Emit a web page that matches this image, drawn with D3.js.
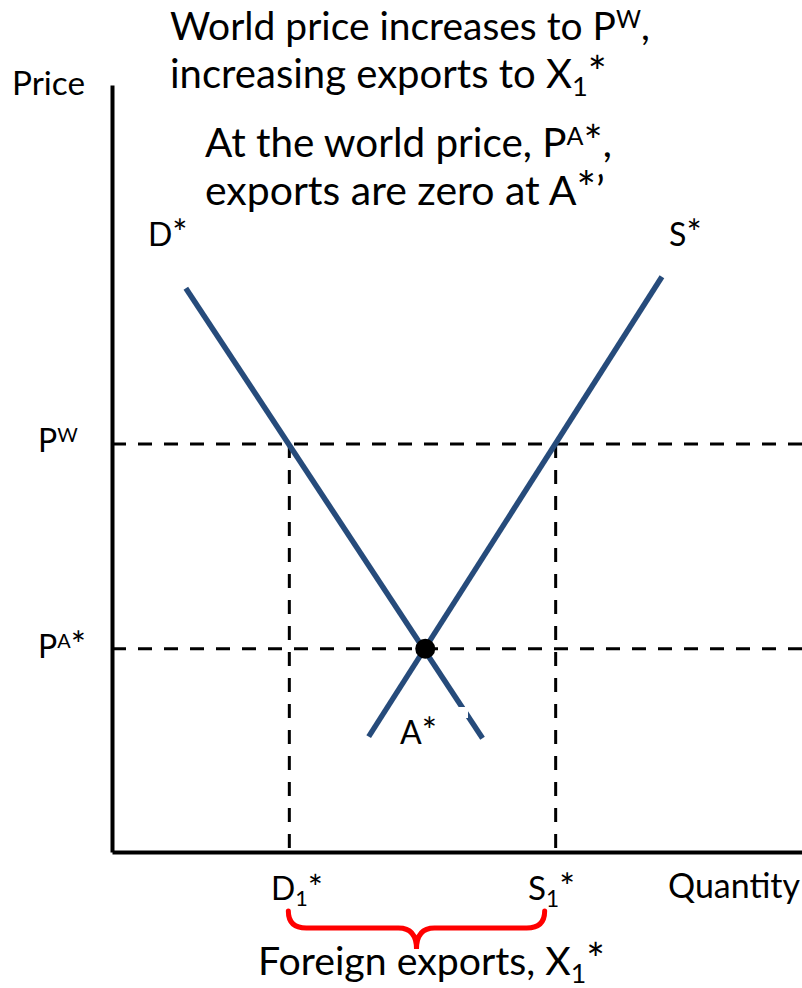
<!DOCTYPE html>
<html>
<head>
<meta charset="utf-8">
<script src="https://cdn.jsdelivr.net/npm/d3@7/dist/d3.min.js"></script>
<style>
  html, body { margin: 0; padding: 0; background: #fff; }
  svg { display: block; }
  text { font-family: Lato, "Open Sans", sans-serif; fill: #000; }
</style>
</head>
<body>
<script>
// Foreign market: demand D*, supply S*, autarky point A*, world price P^W
const demand = [ { q: 10.7, p: 73.8 }, { q: 53.7, p: 14.9 } ];
const supply = [ { q: 37.2, p: 15.1 }, { q: 79.7, p: 75.3 } ];
const autarky = { q: 45.4, p: 26.6 };
const worldPrice = 53.4;
const exportQty = { d1: 25.7, s1: 64.3 };

const W = 802, H = 988;
const svg = d3.select("body").append("svg").attr("width", W).attr("height", H);

const x = d3.scaleLinear().domain([0, 100]).range([112, 802]);
const y = d3.scaleLinear().domain([0, 100]).range([852, 88]);

const blue = "#264b7b";

// axes without ticks
svg.append("g").attr("transform", `translate(0,${y(0)})`)
  .call(d3.axisBottom(x).tickValues([]).tickSizeOuter(0))
  .select(".domain").attr("stroke", "#000").attr("stroke-width", 4);
svg.append("g").attr("transform", `translate(${x(0)},0)`)
  .call(d3.axisLeft(y.copy().range([852, 85])).tickValues([]).tickSizeOuter(0))
  .select(".domain").attr("stroke", "#000").attr("stroke-width", 4);

// dashed guides
const dash = "14,12";
const guides = svg.append("g").attr("stroke", "#000").attr("stroke-width", 3).attr("stroke-dasharray", dash);
[worldPrice, autarky.p].forEach(p => {
  guides.append("line").attr("x1", x(0)).attr("x2", x(100)).attr("y1", y(p)).attr("y2", y(p));
});
[exportQty.d1, exportQty.s1].forEach(q => {
  guides.append("line").attr("x1", x(q)).attr("x2", x(q)).attr("y1", y(worldPrice)).attr("y2", y(0));
});

// demand and supply curves
const line = d3.line().x(d => x(d.q)).y(d => y(d.p));
[demand, supply].forEach(pts => {
  svg.append("path").attr("d", line(pts)).attr("fill", "none")
    .attr("stroke", blue).attr("stroke-width", 5.5);
});

// label backing box near the bottom of D*
svg.append("rect").attr("x", 457).attr("y", 707).attr("width", 11).attr("height", 11).attr("fill", "#fff");

// autarky point
svg.append("circle").attr("cx", x(autarky.q)).attr("cy", y(autarky.p)).attr("r", 10).attr("fill", "#000");

// text with superscript / subscript pieces; asterisks drawn a little larger
function build(parts, px, py, size) {
  const t = svg.append("text").attr("x", px).attr("y", py).attr("font-size", size);
  let offset = 0; // current baseline shift in px
  function piece(str, fs, target) {
    const s = t.append("tspan").attr("font-size", fs).text(str);
    if (target !== offset) { s.attr("dy", target - offset); offset = target; }
  }
  parts.forEach(pt => {
    if (typeof pt === "string") {
      pt.split(/(\*)/).filter(s => s.length).forEach(s => {
        piece(s, s === "*" ? size * 1.12 : size, 0);
      });
    } else if (pt.sup) {
      piece(pt.sup, size * 0.62, -0.3 * size);
    } else if (pt.sub) {
      piece(pt.sub, size * 0.68, 0.2 * size);
    }
  });
  return t;
}
function label(parts, px, py, size, fitWidth) {
  let t = build(parts, px, py, size);
  if (fitWidth) {
    const w = t.node().getComputedTextLength();
    t.remove();
    t = build(parts, px, py, size * fitWidth / w);
  }
  return t;
}

// headline
label(["World price increases to P", { sup: "W" }, ","], 170, 40, 34, 480);
label(["increasing exports to X", { sub: "1" }, "*"], 170, 88, 34, 437);
label(["At the world price, P", { sup: "A" }, "*,"], 205, 157, 34, 407);
label(["exports are zero at A*\u2019"], 205, 205, 34, 400);

// axis titles and curve labels
label(["Price"], 12, 95, 31, 73);
label(["Quantity"], 668, 898, 31, 132);
label(["D*"], 148, 246, 32);
label(["S*"], 669, 246, 32);
label(["P", { sup: "W" }], 38, 452, 32);
label(["P", { sup: "A" }, "*"], 38, 658, 32);
label(["A*"], 400, 744, 32, 37);
label(["D", { sub: "1" }, "*"], 271, 900, 32, 52);
label(["S", { sub: "1" }, "*"], 528, 900, 32, 47);
label(["Foreign exports, X", { sub: "1" }, "*"], 258, 975, 34, 347);

// brace spanning foreign exports
const bx0 = x(exportQty.d1) - 1, bx1 = x(exportQty.s1) - 11;
const bm = (bx0 + bx1) / 2, braceTop = 911, braceMid = 928, braceTip = 949, br = 18;
svg.append("path")
  .attr("d", `M${bx0},${braceTop} Q${bx0},${braceMid} ${bx0 + br},${braceMid} L${bm - br},${braceMid} Q${bm},${braceMid} ${bm},${braceTip}` +
             ` Q${bm},${braceMid} ${bm + br},${braceMid} L${bx1 - br},${braceMid} Q${bx1},${braceMid} ${bx1},${braceTop}`)
  .attr("fill", "none").attr("stroke", "#ff0000").attr("stroke-width", 5).attr("stroke-linecap", "round");
</script>
</body>
</html>
